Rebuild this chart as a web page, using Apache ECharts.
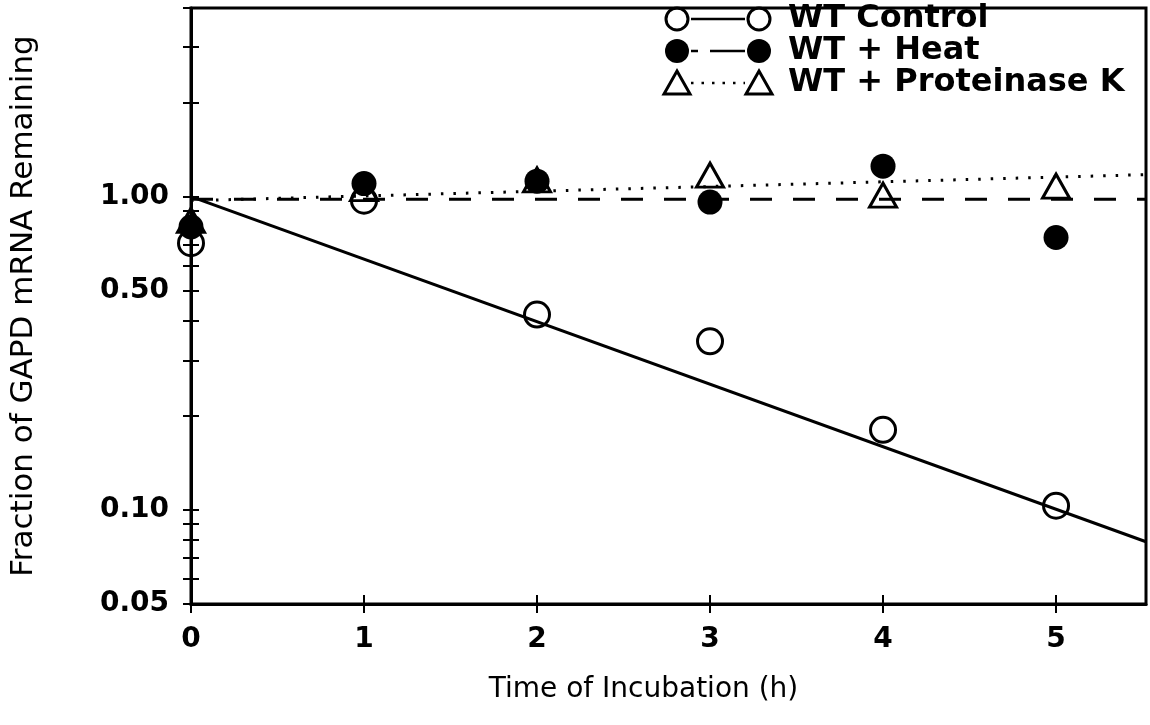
<!DOCTYPE html>
<html><head><meta charset="utf-8">
<script src="https://cdn.jsdelivr.net/npm/echarts@6/dist/echarts.min.js"></script>
<style>html,body{margin:0;padding:0;background:#fff}#c{width:1150px;height:725px}</style>
</head><body><div id="c"></div><script>
// ---- data ----
const times = [0, 1, 2, 3, 4, 5];
const wtControl = [0.71, 0.97, 0.42, 0.345, 0.18, 0.103];
const wtHeat = [0.80, 1.10, 1.12, 0.96, 1.25, 0.74];
const wtProtK = [0.84, 1.06, 1.13, 1.17, 1.01, 1.08];
const fitX = [0, 5.52];
const fitControl = [1.0, 0.079];
const fitHeat = [0.98, 0.98];
const fitProtK = [0.97, 1.175];
const yTickValues = [0.05, 0.06, 0.07, 0.08, 0.09, 0.1, 0.2, 0.3, 0.4, 0.5, 0.6, 0.7, 0.8, 0.9, 1, 2, 3, 4];
const yLabelValues = [0.05, 0.1, 0.5, 1];
const xTickValues = [0, 1, 2, 3, 4, 5];
const seriesNames = ['WT Control', 'WT + Heat', 'WT + Proteinase K'];
const xTitle = 'Time of Incubation (h)';
const yTitle = 'Fraction of GAPD mRNA Remaining';

const FONT = '"DejaVu Sans", sans-serif';
const pairs = (xs, ys) => xs.map((x, i) => [x, ys[i]]);

const openStyle = { color: 'rgba(0,0,0,0)', borderColor: '#000', borderWidth: 3, opacity: 1 };

// legend drawn as graphic (icon - line - icon, then text)
const LX1 = 677, LX2 = 759, LTX = 788, rows = [19, 51, 83];
function sym(kind, x, y) {
  if (kind === 'open') return { type: 'circle', shape: { cx: x, cy: y, r: 11 }, style: { fill: 'none', stroke: '#000', lineWidth: 3 } };
  if (kind === 'filled') return { type: 'circle', shape: { cx: x, cy: y, r: 12 }, style: { fill: '#000' } };
  return { type: 'polygon', shape: { points: [[x, y - 12], [x + 13, y + 11], [x - 13, y + 11]] }, style: { fill: 'none', stroke: '#000', lineWidth: 3 } };
}
const legendDefs = [
  { kind: 'open', dash: null },
  { kind: 'filled', dash: [7, 12, 35, 12] },
  { kind: 'tri', dash: [2.5, 8] }
];
const graphic = [];
legendDefs.forEach((d, i) => {
  const y = rows[i];
  graphic.push({ type: 'line', shape: { x1: LX1 + 14, y1: y, x2: LX2 - 14, y2: y },
    style: { stroke: '#000', lineWidth: 2.5, lineDash: d.dash || null } });
  graphic.push(sym(d.kind, LX1, y));
  graphic.push(sym(d.kind, LX2, y));
  graphic.push({ type: 'text', style: { text: seriesNames[i], x: LTX, y: y, font: 'bold 32px ' + FONT, fill: '#000', verticalAlign: 'middle', align: 'left' } });
});

const chart = echarts.init(document.getElementById('c'), null, { renderer: 'canvas' });
chart.setOption({
  backgroundColor: '#fff',
  animation: false,
  grid: { left: 188, top: 8, right: 4, bottom: 121, show: true, borderColor: '#000', borderWidth: 3, backgroundColor: 'transparent' },
  xAxis: [
    { type: 'value', min: 0, max: 5.52, position: 'bottom',
      axisLine: { show: true, lineStyle: { color: '#000', width: 3 } },
      axisTick: { show: true, length: 9, lineStyle: { color: '#000', width: 2 }, customValues: xTickValues },
      axisLabel: { customValues: xTickValues, fontSize: 28, fontWeight: 'bold', fontFamily: FONT, color: '#000', margin: 22 },
      splitLine: { show: false },
      name: xTitle, nameLocation: 'middle', nameGap: 72,
      nameTextStyle: { fontSize: 28, fontFamily: FONT, color: '#000', padding: [0, 50, 0, 0] } },
    { type: 'value', min: 0, max: 5.52, position: 'bottom',
      axisLine: { show: false },
      axisTick: { show: true, inside: true, length: 9, lineStyle: { color: '#000', width: 2 }, customValues: xTickValues },
      axisLabel: { show: false }, splitLine: { show: false } }
  ],
  yAxis: [
    { type: 'log', logBase: 10, min: 0.05, max: 4, position: 'left',
      axisLine: { show: true, lineStyle: { color: '#000', width: 3 } },
      axisTick: { show: true, length: 8, lineStyle: { color: '#000', width: 2 }, customValues: yTickValues },
      axisLabel: { customValues: yLabelValues, formatter: v => Number(v).toFixed(2), fontSize: 28, fontWeight: 'bold', fontFamily: FONT, color: '#000', margin: 22 },
      splitLine: { show: false },
      name: yTitle, nameLocation: 'middle', nameGap: 152,
      nameTextStyle: { fontSize: 31, fontFamily: FONT, color: '#000' } },
    { type: 'log', logBase: 10, min: 0.05, max: 4, position: 'left',
      axisLine: { show: false },
      axisTick: { show: true, inside: true, length: 8, lineStyle: { color: '#000', width: 2 }, customValues: yTickValues },
      axisLabel: { show: false }, splitLine: { show: false } }
  ],
  graphic: graphic,
  series: [
    { name: seriesNames[0] + ' fit', type: 'line', data: pairs(fitX, fitControl), symbol: 'none', silent: true,
      lineStyle: { color: '#000', width: 3, type: 'solid' }, z: 2 },
    { name: seriesNames[1] + ' fit', type: 'line', data: pairs(fitX, fitHeat), symbol: 'none', silent: true,
      lineStyle: { color: '#000', width: 3, type: [22, 21] }, z: 2 },
    { name: seriesNames[2] + ' fit', type: 'line', data: pairs(fitX, fitProtK), symbol: 'none', silent: true,
      lineStyle: { color: '#000', width: 3, type: [2.5, 10] }, z: 2 },
    { name: seriesNames[0], type: 'scatter', data: pairs(times, wtControl), symbol: 'circle', symbolSize: 25,
      itemStyle: openStyle, z: 3 },
    { name: seriesNames[2], type: 'scatter', data: pairs(times, wtProtK), symbol: 'triangle', symbolSize: [27, 24],
      itemStyle: openStyle, z: 4 },
    { name: seriesNames[1], type: 'scatter', data: pairs(times, wtHeat), symbol: 'circle', symbolSize: 25,
      itemStyle: { color: '#000', opacity: 1 }, z: 5 }
  ]
});
</script></body></html>
